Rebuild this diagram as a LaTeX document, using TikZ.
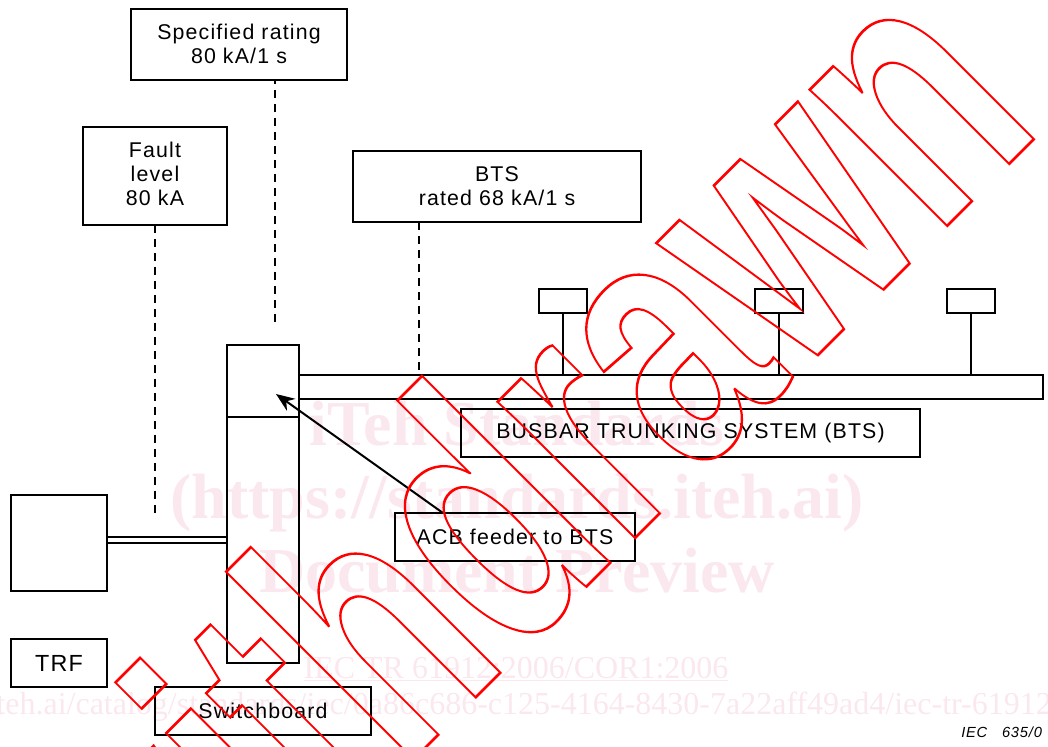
\documentclass[tikz,border=0pt]{standalone}
\usepackage{fontspec}
\setmainfont{Liberation Sans}[LetterSpace=5.5]
\newfontfamily\wmserif{Liberation Serif}
\newfontfamily\wmsans{Liberation Sans}
\usetikzlibrary{arrows.meta, positioning, calc}
\definecolor{wmpink}{RGB}{251,232,238}
\def\px{0.75pt}
\tikzset{
    box/.style={
        rectangle,
        draw=black,
        line width=1.5pt,
        inner sep=0pt,
        outer sep=0pt,
        align=center,
        font=\fontsize{16pt}{18pt}\selectfont
    },
    tapbox/.style={
        box,
        minimum width=48*\px,
        minimum height=24*\px
    },
    wire/.style={
        draw=black,
        line width=1.5pt
    },
    dashline/.style={
        wire,
        dash pattern=on 6pt off 4.5pt
    },
    arrow/.style={
        wire,
        -{Stealth[length=14pt,width=11pt]}
    },
    wmhead/.style={
        text=wmpink,
        inner sep=0pt,
        font=\wmserif\bfseries\fontsize{48pt}{48pt}\selectfont
    },
    wmline/.style={
        text=wmpink,
        inner sep=0pt,
        font=\wmserif\fontsize{24pt}{24pt}\selectfont
    }
}
\begin{document}
\begin{tikzpicture}[x=\px, y=-\px]
\useasboundingbox (0,0) rectangle (1048,746);

% pale text behind the drawing
\node[wmhead, anchor=base] (wmone) at (517,445) {iTeh Standards};
\node[wmhead, anchor=base] (wmtwo) at (517,518) {(https://standards.iteh.ai)};
\node[wmhead, anchor=base] (wmthree) at (517,592) {Document Preview};
\node[wmline, anchor=base] (wmfour) at (516,678) {\underline{IEC TR 61912:2006/COR1:2006}};
\node[wmline, anchor=base east] (wmfive) at (1052,714) {teh.ai/catalog/standards/iec/0a86c686-c125-4164-8430-7a22aff49ad4/iec-tr-61912};

% notes at the top
\node[box, minimum width=216*\px, minimum height=71*\px] (rating) at (239,44.5) {Specified rating\\80 kA/1 s\rule[-1.5pt]{0pt}{0pt}};
\node[box, minimum width=144*\px, minimum height=98*\px] (fault) at (155,176) {Fault\\level\\80 kA\rule[-3pt]{0pt}{0pt}};
\node[box, minimum width=288*\px, minimum height=71*\px] (rated) at (497,186.5) {BTS\\rated 68 kA/1 s};

% switchboard column and busbar
\node[box, minimum width=72*\px, minimum height=72*\px] (boardtop) at (263,381) {};
\node[box, minimum width=72*\px, minimum height=246*\px] (boardlow) at (263,540) {};
\node[box, minimum width=744*\px, minimum height=24*\px] (bar) at (671,387) {};
\node[tapbox] (tapa) at (563,301) {};
\node[tapbox] (tapb) at (779,301) {};
\node[tapbox] (tapc) at (971,301) {};
\node[box, minimum width=459*\px, minimum height=48*\px] (busbar) at (690.5,433) {BUSBAR TRUNKING SYSTEM (BTS)};
\node[box, minimum width=240*\px, minimum height=48*\px] (acb) at (515,537) {ACB feeder to BTS};

% left side
\node[box, minimum width=96*\px, minimum height=96*\px] (source) at (59,543) {};
\node[box, minimum width=96*\px, minimum height=48*\px, font=\fontsize{17.5pt}{18pt}\selectfont] (trf) at (59,663) {TRF};
\node[box, minimum width=216*\px, minimum height=48*\px] (board) at (263,711) {Switchboard};
\node[anchor=base west, inner sep=0pt, font=\fontsize{11pt}{12pt}\itshape] (ieccode) at (961,737) {IEC\hspace{11pt}635/0};

% connectors
\coordinate (ratingend) at (275,322);
\coordinate (faultend) at (155,514);
\coordinate (ratedend) at (419,372);
\coordinate (arrowend) at (276,394);
\draw[dashline, dash phase=3pt] (ratingend |- rating.south) -- (ratingend);
\draw[dashline] (fault.south) -- (faultend);
\draw[dashline] (ratedend |- rated.south) -- (ratedend);
\draw[wire] (tapa.south) -- (tapa.south |- bar.north);
\draw[wire] (tapb.south) -- (tapb.south |- bar.north);
\draw[wire] (tapc.south) -- (tapc.south |- bar.north);
\draw[wire] ([yshift=6*\px]source.east) -- ([yshift=6*\px]source.east -| boardlow.west);
\draw[wire, line width=1pt] (source.east) -- (source.east -| boardlow.west);
\draw[arrow] ([xshift=-72*\px]acb.north) -- (arrowend);

% red outlined word across the drawing
\node[anchor=base west, inner sep=0pt, text=red, rotate=45, xscale=0.7,
      font=\wmsans\bfseries\fontsize{274.5pt}{274.5pt}\selectfont] (wmword) at (149.2,1023.8)
      {\special{pdf:code 1 Tr 2 w}withdrawn\special{pdf:code 0 Tr}};
\end{tikzpicture}
\end{document}
